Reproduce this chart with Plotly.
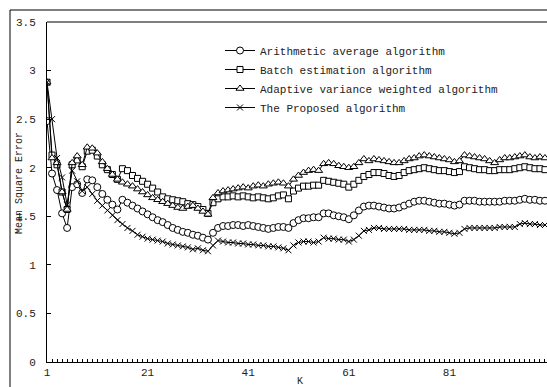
import plotly.graph_objects as go

K = list(range(1, 101))

arithmetic = [2.48, 1.94, 1.77, 1.53, 1.38, 1.80, 1.83, 1.74, 1.88, 1.87,
              1.80, 1.73, 1.67, 1.62, 1.57, 1.67, 1.64, 1.61, 1.58, 1.55,
              1.52, 1.49, 1.46, 1.44, 1.41, 1.38, 1.36, 1.34, 1.33, 1.31,
              1.30, 1.28, 1.26, 1.33, 1.38, 1.40, 1.40, 1.41, 1.41, 1.40,
              1.41, 1.40, 1.39, 1.38, 1.37, 1.38, 1.39, 1.39, 1.38, 1.43,
              1.46, 1.48, 1.48, 1.49, 1.49, 1.53, 1.53, 1.51, 1.50, 1.49,
              1.47, 1.51, 1.56, 1.60, 1.61, 1.61, 1.60, 1.59, 1.58, 1.58,
              1.59, 1.61, 1.63, 1.65, 1.66, 1.66, 1.65, 1.64, 1.63, 1.63,
              1.62, 1.61, 1.62, 1.66, 1.66, 1.66, 1.65, 1.65, 1.65, 1.65,
              1.65, 1.66, 1.66, 1.66, 1.67, 1.68, 1.67, 1.67, 1.66, 1.66]

batch = [2.88, 2.13, 2.03, 1.75, 1.57, 2.03, 2.08, 2.01, 2.17, 2.18,
         2.12, 2.03, 1.98, 1.93, 1.88, 1.99, 1.97, 1.92, 1.89, 1.86,
         1.83, 1.79, 1.75, 1.70, 1.68, 1.67, 1.66, 1.65, 1.63, 1.62,
         1.60, 1.57, 1.53, 1.64, 1.68, 1.70, 1.70, 1.71, 1.70, 1.71,
         1.70, 1.69, 1.70, 1.69, 1.68, 1.69, 1.71, 1.72, 1.68, 1.76,
         1.79, 1.81, 1.81, 1.82, 1.82, 1.87, 1.86, 1.85, 1.84, 1.83,
         1.80, 1.83, 1.87, 1.91, 1.93, 1.95, 1.95, 1.94, 1.92, 1.91,
         1.92, 1.95, 1.97, 1.98, 1.99, 2.00, 1.99, 1.98, 1.97, 1.97,
         1.96, 1.95, 1.96, 2.01, 2.00, 1.99, 1.98, 1.98, 1.97, 1.97,
         1.98, 1.98, 1.98, 1.99, 2.00, 2.01, 2.00, 1.99, 1.99, 1.98]

adaptive = [2.88, 2.10, 2.05, 1.75, 1.57, 2.05, 2.12, 2.03, 2.21, 2.20,
            2.15, 2.06, 1.99, 1.93, 1.88, 1.85, 1.83, 1.81, 1.78, 1.75,
            1.72, 1.69, 1.67, 1.65, 1.63, 1.61, 1.59, 1.58, 1.60, 1.61,
            1.58, 1.55, 1.52, 1.69, 1.74, 1.76, 1.77, 1.78, 1.79, 1.80,
            1.79, 1.81, 1.82, 1.81, 1.83, 1.84, 1.85, 1.84, 1.81, 1.88,
            1.92, 1.95, 1.97, 1.98, 1.97, 2.04, 2.05, 2.04, 2.02, 2.01,
            2.00, 2.01, 2.05, 2.09, 2.07, 2.09, 2.08, 2.07, 2.06, 2.05,
            2.05, 2.07, 2.09, 2.10, 2.12, 2.13, 2.12, 2.11, 2.10, 2.09,
            2.08, 2.06, 2.07, 2.13, 2.12, 2.11, 2.10, 2.09, 2.07, 2.05,
            2.08, 2.10, 2.10, 2.11, 2.12, 2.13, 2.11, 2.10, 2.11, 2.10]

proposed = [2.88, 2.50, 2.10, 1.90, 1.62, 1.97, 1.86, 1.76, 1.80, 1.73,
            1.66, 1.61, 1.56, 1.51, 1.46, 1.42, 1.38, 1.35, 1.31, 1.29,
            1.27, 1.26, 1.25, 1.24, 1.22, 1.21, 1.20, 1.19, 1.18, 1.16,
            1.17, 1.15, 1.14, 1.20, 1.25, 1.24, 1.23, 1.23, 1.22, 1.22,
            1.21, 1.21, 1.20, 1.20, 1.19, 1.19, 1.18, 1.17, 1.15, 1.20,
            1.23, 1.24, 1.24, 1.23, 1.24, 1.28, 1.27, 1.27, 1.26, 1.26,
            1.24, 1.26, 1.30, 1.35, 1.36, 1.38, 1.38, 1.37, 1.37, 1.37,
            1.37, 1.37, 1.36, 1.36, 1.36, 1.36, 1.35, 1.35, 1.34, 1.34,
            1.33, 1.32, 1.33, 1.37, 1.38, 1.38, 1.38, 1.38, 1.38, 1.38,
            1.39, 1.39, 1.39, 1.39, 1.42, 1.43, 1.42, 1.42, 1.41, 1.41]

names = ["Arithmetic average algorithm", "Batch estimation algorithm",
         "Adaptive variance weighted algorithm", "The Proposed algorithm"]
x_tick_vals = [1, 21, 41, 61, 81]
y_tick_vals = [0, 0.5, 1, 1.5, 2, 2.5, 3, 3.5]
y_tick_text = ["0", "0.5", "1", "1.5", "2", "2.5", "3", "3.5"]

FONT = "Liberation Mono"
TXT = "#222"
series = [arithmetic, batch, adaptive, proposed]
symbols = ["circle", "square", "triangle-up", "x-thin"]
sizes = [7, 6, 7, 6]

fig = go.Figure()
for vals, nm, sym, sz in zip(series, names, symbols, sizes):
    fig.add_trace(go.Scatter(
        x=K, y=vals, name=nm, mode="lines+markers",
        line=dict(color="black", width=1),
        marker=dict(symbol=sym, size=sz, color="white",
                    line=dict(color="black", width=1)),
    ))

L, T, B = 47, 22, 25
W, H = 547, 387
pw = W - L
ph = H - T - B
px_per_unit = 5.03
xmax = 1 + pw / px_per_unit

def px_to_paper_x(px):
    return (px - L) / pw

def py_to_paper_y(py):
    return (H - B - py) / ph

fig.update_layout(
    width=W, height=H,
    margin=dict(l=L, r=0, t=T, b=B, pad=0),
    paper_bgcolor="white", plot_bgcolor="white",
    font=dict(family=FONT, size=11, color=TXT),
    showlegend=True,
    legend=dict(x=px_to_paper_x(220), y=py_to_paper_y(36),
                xanchor="left", yanchor="top",
                bgcolor="rgba(0,0,0,0)", borderwidth=0,
                font=dict(family=FONT, size=11, color=TXT),
                itemwidth=30, tracegroupgap=0),
    xaxis=dict(range=[1, xmax], tickvals=x_tick_vals,
               ticks="inside", ticklen=3, tickcolor="black",
               showline=True, linecolor="black", linewidth=1,
               showgrid=False, zeroline=False,
               minor=dict(dtick=1, tick0=1, ticks="inside", ticklen=3,
                          tickcolor="black", showgrid=False),
               tickfont=dict(family=FONT, size=11, color=TXT)),
    yaxis=dict(range=[0, 3.5], tickvals=y_tick_vals, ticktext=y_tick_text,
               ticks="inside", ticklen=4, tickcolor="black",
               showline=True, linecolor="black", linewidth=1,
               showgrid=False, zeroline=False, ticklabelstandoff=8,
               tickfont=dict(family=FONT, size=11, color=TXT)),
    shapes=[
        dict(type="line", xref="paper", yref="paper", x0=0, x1=1.05,
             y0=1, y1=1, line=dict(color="black", width=1)),
        dict(type="rect", xref="paper", yref="paper",
             x0=px_to_paper_x(10), x1=1.2,
             y0=py_to_paper_y(420), y1=py_to_paper_y(10),
             line=dict(color="black", width=1)),
    ],
    annotations=[
        dict(text="Mean Square Error", textangle=-90, xref="paper", yref="paper",
             x=px_to_paper_x(19), y=py_to_paper_y(183),
             xanchor="center", yanchor="middle", showarrow=False,
             font=dict(family=FONT, size=10, color=TXT)),
        dict(text="K", xref="paper", yref="paper",
             x=px_to_paper_x(300), y=py_to_paper_y(381),
             xanchor="center", yanchor="middle", showarrow=False,
             font=dict(family=FONT, size=10, color=TXT)),
        dict(text="101", xref="x", yref="paper", x=101,
             y=py_to_paper_y(370), xanchor="center", yanchor="middle",
             showarrow=False, font=dict(family=FONT, size=11, color=TXT)),
    ],
)

fig.write_html("out.html")
